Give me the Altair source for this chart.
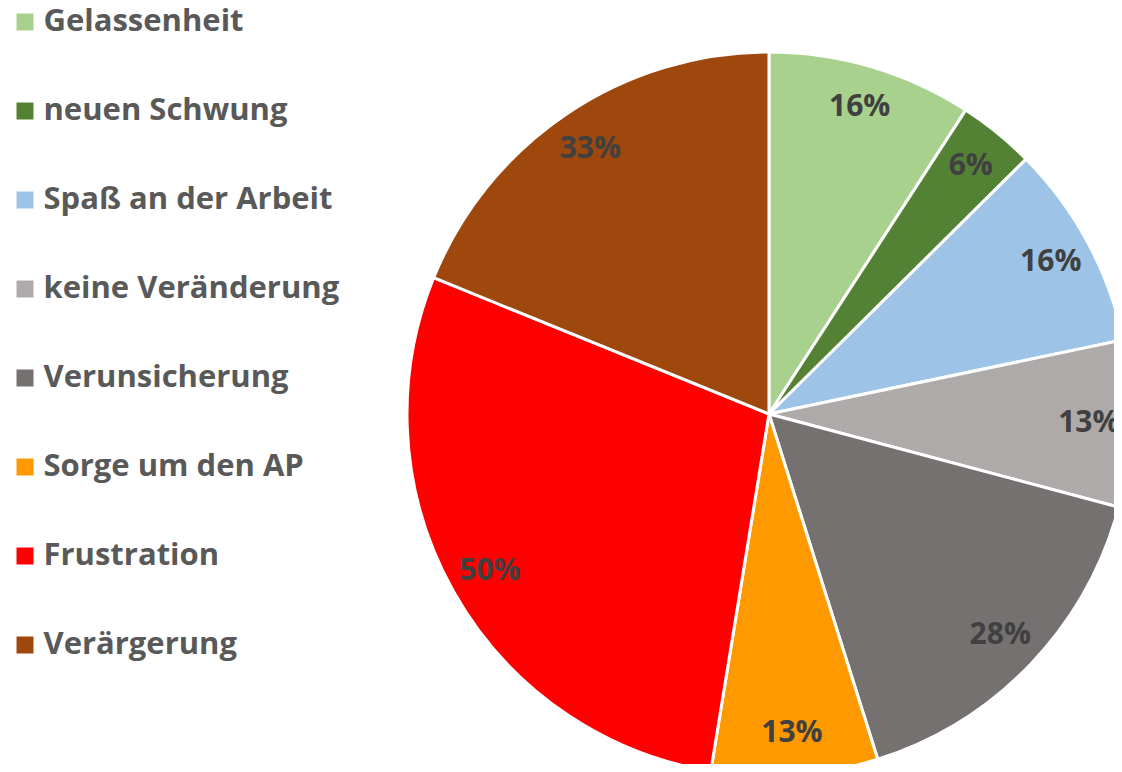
import altair as alt
import pandas as pd

categories = ["Gelassenheit", "neuen Schwung", "Spaß an der Arbeit", "keine Veränderung",
              "Verunsicherung", "Sorge um den AP", "Frustration", "Verärgerung"]
values = [16, 6, 16, 13, 28, 13, 50, 33]
labels = ["16%", "6%", "16%", "13%", "28%", "13%", "50%", "33%"]
colors = ["#A9D18E", "#548235", "#9DC3E6", "#AEAAAA", "#767171", "#FF9900", "#FF0000", "#9E480E"]

df = pd.DataFrame({"cat": categories, "val": values, "lab": labels, "idx": list(range(len(values)))})

base = alt.Chart(df).encode(
    theta=alt.Theta("val:Q", stack=True),
    order=alt.Order("idx:Q"),
)

arcs = base.mark_arc(stroke="white", strokeWidth=3).encode(
    color=alt.Color(
        "cat:N",
        sort=categories,
        scale=alt.Scale(domain=categories, range=colors),
        legend=alt.Legend(
            title=None,
            orient="none",
            legendX=1.5,
            legendY=-1.5,
            symbolType="square",
            symbolSize=289,
            symbolStrokeWidth=0,
            labelFont="Open Sans",
            labelFontWeight="bold",
            labelFontSize=31,
            labelColor="#595959",
            labelOffset=3,
            rowPadding=57,
            padding=0,
            labelLimit=400,
        ),
    ),
    x=alt.value(761),
    y=alt.value(406),
    radius=alt.value(362),
)

texts = base.mark_text(font="Open Sans", fontWeight="bold", fontSize=30, color="#404040").encode(
    text="lab:N",
    x=alt.value(761),
    y=alt.value(406),
    radius=alt.value(320),
)

chart = alt.layer(arcs, texts).properties(
    width=1106, height=756, autosize=alt.AutoSizeParams(type="none"), padding=0
).configure_view(stroke=None)

chart.save("out.html", embed_options={"renderer": "svg", "actions": False})
